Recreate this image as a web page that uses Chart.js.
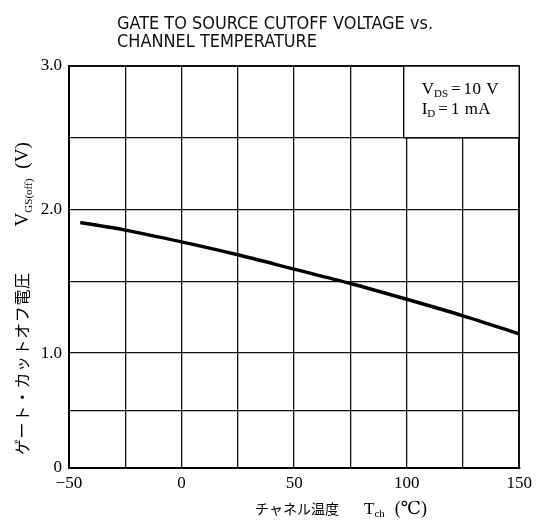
<!DOCTYPE html>
<html>
<head>
<meta charset="utf-8">
<script src="https://cdn.jsdelivr.net/npm/chart.js@4"></script>
<style>
  html, body { margin: 0; padding: 0; background: #fff; }
  #wrap { width: 537px; height: 522px; position: relative; }
</style>
</head>
<body>
<div id="wrap"><canvas id="vgsChart"></canvas></div>
<script>
// channel temperature (degC) and cutoff voltage (V)
const temps = [-45, -25, 0, 25, 50, 75, 100, 125, 150];
const vgsOff = [1.91, 1.857, 1.775, 1.685, 1.585, 1.485, 1.375, 1.26, 1.135];

// axis ticks
const xTickValues = [-50, -25, 0, 25, 50, 75, 100, 125, 150];
const xTickLabels = ['\u221250', '', '0', '', '50', '', '100', '', '150'];
const yTickValues = [0.2, 0.6, 1.0, 1.5, 2.0, 2.5, 3.0];
const yTickLabels = ['0', '', '1.0', '', '2.0', '', '3.0'];

const titleLines = ['GATE TO SOURCE CUTOFF VOLTAGE vs.', 'CHANNEL TEMPERATURE'];

const SERIF = '"Liberation Serif", "DejaVu Serif", serif';
const JP = '"Noto Sans CJK JP", sans-serif';

// draw a run of text pieces one after another (for subscripts)
function drawRuns(ctx, x, y, runs) {
    let cx = x;
    runs.forEach(r => {
        ctx.font = r.font;
        ctx.letterSpacing = (r.ls || 0) + 'px';
        cx += r.gap || 0;
        ctx.fillText(r.text, cx, y + (r.dy || 0));
        cx += ctx.measureText(r.text).width;
    });
    ctx.letterSpacing = '0px';
}

const extras = {
    id: 'extras',
    afterDatasetsDraw(chart) {
        const ctx = chart.ctx;
        const xs = chart.scales.x, ys = chart.scales.y;
        ctx.save();
        ctx.fillStyle = '#000';
        ctx.textBaseline = 'alphabetic';

        // title, squeezed to the original lettering width
        ctx.font = '18px "Liberation Sans Narrow", "DejaVu Sans Condensed", sans-serif';
        const w1 = ctx.measureText(titleLines[0]).width;
        const sx = 316 / w1;
        ctx.save();
        ctx.translate(117, 29);
        ctx.scale(sx, 1);
        ctx.fillStyle = '#111';
        ctx.fillText(titleLines[0], 0, 0);
        ctx.fillText(titleLines[1], 0, 18);
        ctx.restore();

        // condition box
        const bx1 = xs.getPixelForValue(100) - 3, bx2 = xs.getPixelForValue(150);
        const by1 = ys.getPixelForValue(3.0), by2 = ys.getPixelForValue(2.5);
        ctx.fillStyle = '#fff';
        ctx.fillRect(bx1, by1, bx2 - bx1, by2 - by1);
        ctx.strokeStyle = '#000';
        ctx.lineWidth = 1.4;
        ctx.strokeRect(bx1, by1, bx2 - bx1, by2 - by1);
        ctx.fillStyle = '#000';
        drawRuns(ctx, bx1 + 18, by1 + 28, [
            {text: 'V', font: '17px ' + SERIF},
            {text: 'DS', font: '11px ' + SERIF, dy: 3},
            {text: '=', font: '17px ' + SERIF, gap: 3},
            {text: '10 V', font: '17px ' + SERIF, gap: 3, ls: 0.5}
        ]);
        drawRuns(ctx, bx1 + 18, by1 + 48, [
            {text: 'I', font: '17px ' + SERIF},
            {text: 'D', font: '11px ' + SERIF, dy: 3},
            {text: '=', font: '17px ' + SERIF, gap: 3},
            {text: '1 mA', font: '17px ' + SERIF, gap: 3, ls: 0.5}
        ]);

        // x axis title
        drawRuns(ctx, 255, 514, [
            {text: 'チャネル温度', font: '14px ' + JP},
            {text: 'T', font: '17px ' + SERIF, gap: 25},
            {text: 'ch', font: '11px ' + SERIF, dy: 3},
            {text: '(\u2103)', font: '18px ' + SERIF, gap: 10}
        ]);

        // y axis title, rotated
        ctx.save();
        ctx.translate(28, 455);
        ctx.rotate(-Math.PI / 2);
        drawRuns(ctx, 0, 0, [
            {text: 'ゲート・カットオフ電圧', font: '16px ' + JP, ls: 0.6},
            {text: 'V', font: '19px ' + SERIF, gap: 46},
            {text: 'GS(off)', font: '11px ' + SERIF, dy: 4},
            {text: '(V)', font: '19px ' + SERIF, gap: 10}
        ]);
        ctx.restore();

        ctx.restore();
    }
};

const points = temps.map((t, i) => ({x: t, y: vgsOff[i]}));

new Chart(document.getElementById('vgsChart'), {
    type: 'line',
    data: {
        datasets: [{
            data: points,
            borderColor: '#000',
            borderWidth: 3.5,
            pointRadius: 0,
            fill: false,
            tension: 0.3
        }]
    },
    options: {
        responsive: true,
        maintainAspectRatio: false,
        animation: false,
        layout: { padding: { top: 66, right: 16, left: 0, bottom: 0 } },
        plugins: { legend: { display: false }, tooltip: { enabled: false } },
        scales: {
            x: {
                type: 'linear',
                min: -50,
                max: 150,
                afterBuildTicks: s => { s.ticks = xTickValues.map(v => ({value: v})); },
                afterFit: s => { s.height = 54; },
                grid: {
                    color: '#111',
                    drawTicks: false,
                    lineWidth: c => (c.tick && c.tick.value === 150 ? 2 : 1.3)
                },
                border: { display: true, color: '#000', width: 2 },
                ticks: {
                    padding: 5,
                    color: '#000',
                    font: { family: SERIF, size: 17 },
                    maxRotation: 0,
                    autoSkip: false,
                    callback: (v) => xTickLabels[xTickValues.indexOf(v)]
                }
            },
            y: {
                type: 'linear',
                min: 0.2,
                max: 3.0,
                afterBuildTicks: s => { s.ticks = yTickValues.map(v => ({value: v})); },
                afterFit: s => { s.width = 69; },
                grid: {
                    color: '#111',
                    drawTicks: false,
                    lineWidth: c => (c.tick && c.tick.value === 3.0 ? 2 : 1.3)
                },
                border: { display: true, color: '#000', width: 2 },
                ticks: {
                    padding: 7,
                    color: '#000',
                    font: { family: SERIF, size: 17 },
                    autoSkip: false,
                    callback: (v) => yTickLabels[yTickValues.indexOf(v)]
                }
            }
        }
    },
    plugins: [extras]
});
</script>
</body>
</html>
